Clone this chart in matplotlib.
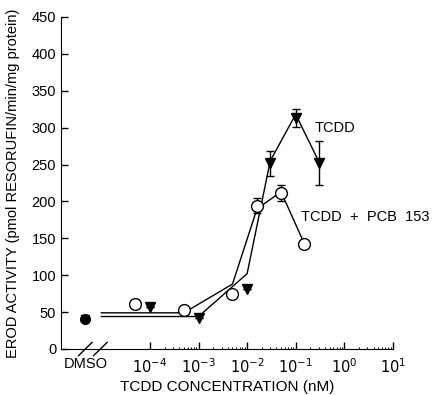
import numpy as np
import matplotlib.pyplot as plt
from matplotlib.ticker import FixedLocator, NullFormatter

plt.rcParams['font.family'] = ['Liberation Sans', 'DejaVu Sans']

# TCDD alone (filled triangles), concentrations in nM
tcdd_conc = [1e-4, 1e-3, 1e-2, 0.03, 0.1, 0.3]
tcdd_erod = [57, 42, 81, 252, 313, 252]
tcdd_err = [0, 0, 0, 17, 12, 30]
tcdd_fit_conc = [1e-5, 1e-3, 1e-2, 0.03, 0.1, 0.3]
tcdd_fit_erod = [44, 44, 102, 255, 318, 254]

# TCDD + PCB 153 (open circles)
pcb_conc = [5e-5, 5e-4, 5e-3, 0.016, 0.05, 0.15]
pcb_erod = [61, 53, 74, 194, 211, 142]
pcb_err = [0, 0, 0, 10, 11, 0]
pcb_fit_conc = [1e-5, 5e-4, 5e-3, 0.016, 0.05, 0.15]
pcb_fit_erod = [49, 49, 88, 190, 213, 143]

dmso_pos = 10 ** -5.33
dmso_erod = 40

fig = plt.figure(figsize=(4.36, 3.95), dpi=100)
ax = fig.add_axes([0.140, 0.1165, 0.761, 0.8405])

ax.plot(tcdd_fit_conc, tcdd_fit_erod, color='black', lw=1)
ax.plot(pcb_fit_conc, pcb_fit_erod, color='black', lw=1)

ax.errorbar(tcdd_conc, tcdd_erod, yerr=tcdd_err, fmt='v', color='black',
            ms=7.5, capsize=3, elinewidth=1, capthick=1)
ax.errorbar(pcb_conc, pcb_erod, yerr=pcb_err, fmt='o', mfc='white', mec='black',
            ecolor='black', ms=8.5, capsize=3, elinewidth=1, capthick=1, mew=1)

# DMSO controls
ax.plot([dmso_pos], [dmso_erod], 'o', mfc='black', mec='black', ms=7)
ax.plot([dmso_pos], [dmso_erod], 'v', color='black', ms=6)

ax.set_xscale('log')
ax.set_xlim(10 ** -5.83, 10)
ax.set_ylim(0, 450)

ax.set_xticks([dmso_pos, 1e-4, 1e-3, 1e-2, 1e-1, 1, 10])
ax.set_xticklabels(['DMSO', '$10^{-4}$', '$10^{-3}$', '$10^{-2}$', '$10^{-1}$',
                    '$10^{0}$', '$10^{1}$'])
minor = [k * 10.0 ** n for n in range(-4, 1) for k in range(2, 10)]
ax.xaxis.set_minor_locator(FixedLocator(minor))
ax.xaxis.set_minor_formatter(NullFormatter())
ax.set_yticks(range(0, 451, 50))

ax.tick_params(axis='both', direction='in', length=5, labelsize=10.5, width=1)
ax.tick_params(axis='x', which='minor', direction='in', length=1.5, width=0.7)
ax.tick_params(axis='x', which='major', pad=6)
ax.get_xticklines()[0].set_visible(False)
ax.get_xticklines()[1].set_visible(False)

ax.spines['top'].set_visible(False)
ax.spines['right'].set_visible(False)

# axis break marks
for xl in [-5.33, -5.02]:
    ax.plot([10 ** (xl - 0.14), 10 ** (xl + 0.14)], [-9, 9], color='black', lw=1,
            clip_on=False)

ax.text(0.245, 299, 'TCDD', fontsize=10.5, va='center')
ax.text(0.13, 179, 'TCDD  +  PCB  153', fontsize=10.5, va='center')

ax.set_xlabel('TCDD CONCENTRATION (nM)', fontsize=11, labelpad=3)
ax.set_ylabel('EROD ACTIVITY (pmol RESORUFIN/min/mg protein)', fontsize=10.5,
              labelpad=8)

fig.savefig('out.png', dpi=100)
